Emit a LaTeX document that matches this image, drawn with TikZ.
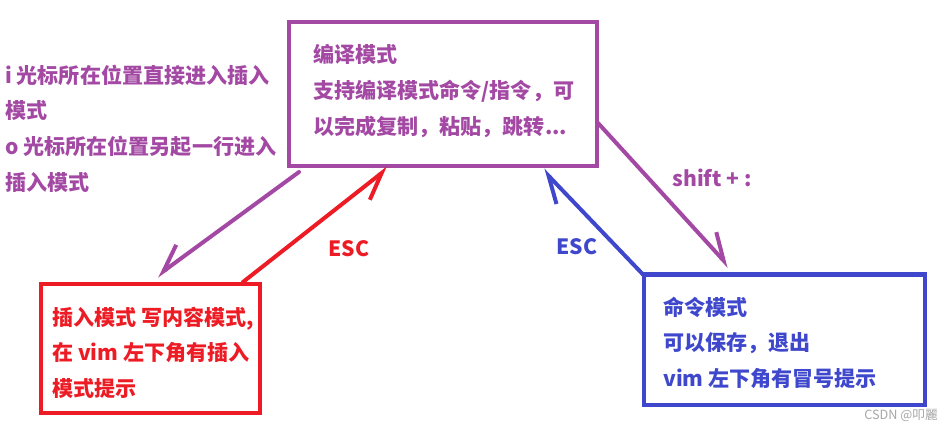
\documentclass[tikz,border=0pt]{standalone}
\usepackage{fontspec}
\setmainfont{Noto Sans CJK SC}
\usetikzlibrary{arrows.meta, calc}
\definecolor{modepurple}{RGB}{163,73,164}
\definecolor{modered}{RGB}{237,28,36}
\definecolor{modeblue}{RGB}{63,72,204}
\tikzset{
  mode box/.style={
    draw=#1,
    line width=3.2pt,
    inner sep=0pt,
    outer sep=0pt
  },
  mode text/.style={
    anchor=north west,
    align=left,
    inner sep=0pt,
    text=#1,
    font=\fontsize{15.8pt}{26.8pt}\selectfont\bfseries
  },
  key label/.style={
    inner sep=0pt,
    text=#1,
    font=\fontsize{15.8pt}{18pt}\selectfont\bfseries
  },
  switch arrow/.style={
    draw=#1,
    line width=3pt,
    line cap=round,
    line join=round,
    -{Straight Barb[harpoon, angle=56:22pt]}
  },
  switch arrow swap/.style={
    draw=#1,
    line width=3pt,
    line cap=round,
    line join=round,
    -{Straight Barb[harpoon, swap, angle=56:22pt]}
  }
}

\begin{document}
\begin{tikzpicture}[x=0.75pt, y=-0.75pt]

  \useasboundingbox (0,0) rectangle (952,431);

  %% ---- 三种模式的框 ----
  \node[mode box=modepurple, minimum width=231pt, minimum height=108pt]
      (edit) at (443,94) {};
  \node[mode box=modered, minimum width=164.25pt, minimum height=96.75pt]
      (insert) at (150.5,348.5) {};
  \node[mode box=modeblue, minimum width=210.75pt, minimum height=97.9pt]
      (cmd) at (784.5,339.75) {};

  %% ---- 框内文字 ----
  \node[mode text=modepurple] (edittext) at (313,44.5)
      {编译模式\\支持编译模式命令/指令，可\\以完成复制，粘贴，跳转...};
  \node[mode text=modered] (inserttext) at (52,306.5)
      {插入模式 写内容模式,\\在 vim 左下角有插入\\模式提示};
  \node[mode text=modeblue] (cmdtext) at (663,296.5)
      {命令模式\\可以保存，退出\\vim 左下角有冒号提示};

  % 左上角说明 i / o
  \node[mode text=modepurple] (iotext) at (5,64.5)
      {i 光标所在位置直接进入插入\\模式\\o 光标所在位置另起一行进入\\插入模式};

  %% ---- 切换箭头 ----
  \draw[switch arrow swap=modepurple]
      ([shift={(10,6)}]edit.south west) -- ([shift={(116,-8)}]insert.north west);
  \draw[switch arrow swap=modered]
      ([shift={(-17,-2)}]insert.north east) -- ([shift={(99,2)}]edit.south west);
  \draw[switch arrow=modeblue]
      ([shift={(-1,0)}]cmd.north west) -- ([shift={(-54,4)}]edit.south east);
  \draw[switch arrow=modepurple]
      ([shift={(1,-43)}]edit.south east) -- ([shift={(85,-8)}]cmd.north west);

  %% ---- 按键标注 ----
  \node[key label=modered] (escred) at (349,249) {ESC};
  \node[key label=modeblue] (escblue) at (577,247) {ESC};
  \node[key label=modepurple] (shiftkey) at (712,178) {shift + :};

  % 水印
  \node[inner sep=0pt, text=gray!70, font=\fontsize{9.5pt}{11pt}\selectfont]
      (mark) at (901,415) {CSDN @叩麗};

\end{tikzpicture}
\end{document}
